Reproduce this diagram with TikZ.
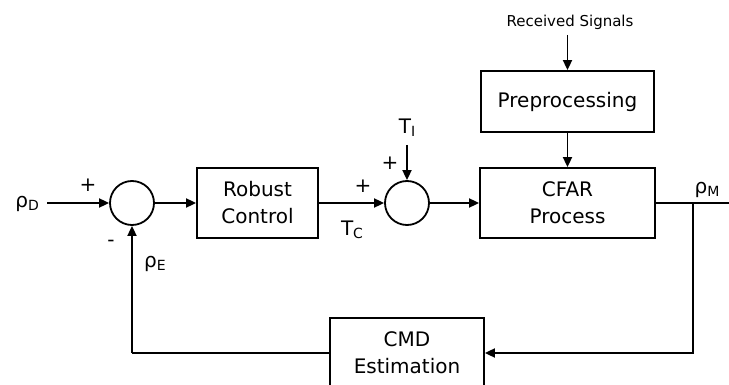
\documentclass[tikz,border=0pt]{standalone}
\usepackage{fontspec}
\setmainfont{DejaVu Sans}
\usetikzlibrary{arrows.meta,positioning}
\tikzset{
  node-b/.style={draw,line width=1.8pt,rectangle,inner sep=0pt,align=center,font=\fontsize{20}{27}\selectfont},
  node-s/.style={draw,line width=1.8pt,circle,minimum size=44pt,inner sep=0pt},
  conn/.style={-{Triangle[length=10pt,width=9pt]},line width=1.8pt},
  wire/.style={line width=1.8pt},
  sgn/.style={font=\fontsize{20}{20}\selectfont,inner sep=0pt},
}
\newcommand{\sigdrop}[2]{#1\raisebox{-3pt}{\fontsize{14}{14}\selectfont #2}}

\begin{document}
\begin{tikzpicture}[x=1pt,y=-1pt]
  \useasboundingbox (0,0) rectangle (729,385);

  % blocks
  \node[node-b,minimum width=121pt,minimum height=70pt] (ctrl) at (257.5,203) {Robust\\Control};
  \node[node-b,minimum width=175pt,minimum height=70pt] (cfar) at (567.5,203) {CFAR\\Process};
  \node[node-b,minimum width=173pt,minimum height=61pt] (prep) at (567.5,101.5) {Preprocessing};
  \node[node-b,minimum width=154pt,minimum height=70pt] (cmd)  at (407,353) {CMD\\Estimation};

  % summing junctions
  \node[node-s] (s1) at (132,203) {};
  \node[node-s] (s2) at (407,203) {};

  % signals
  \node[sgn,anchor=east] (rhod) at (39,204) {\sigdrop{ρ}{D}};
  \node[font=\fontsize{15}{15}\selectfont,inner sep=0pt] (recv) at (570,22) {Received Signals};
  \node[sgn] (ti) at (407,128) {\sigdrop{T}{I}};
  \node[sgn] (tc) at (352,230) {\sigdrop{T}{C}};
  \node[sgn] (rhoe) at (155,264) {\sigdrop{ρ}{E}};
  \node[sgn] (rhom) at (707,190) {\sigdrop{ρ}{M}};

  % signs
  \node[sgn] (p1) at (88,185) {+};
  \node[sgn] (m1) at (111,243) {-};
  \node[sgn] (p2) at (363,186) {+};
  \node[sgn] (p3) at (390,163) {+};

  \coordinate (din) at (47,203);
  \coordinate (tin) at (407,145);
  \coordinate (rin) at (567.5,35);
  \coordinate (tap) at (693,203);
  \coordinate (out) at (739,203);
  \coordinate (fbl) at (132,353);

  \draw[conn] (din) -- (s1);
  \draw[conn] (s1) -- (ctrl);
  \draw[conn] (ctrl) -- (s2);
  \draw[conn] (tin) -- (s2);
  \draw[conn] (s2) -- (cfar);
  \draw[conn] (rin) -- (prep);
  \draw[conn] (prep) -- (cfar);
  \draw[conn] (cfar) -- (out);
  \draw[conn] (tap) |- (cmd);
  \draw[wire] (cmd) -- (fbl);
  \draw[conn] (fbl) -- (s1);

\end{tikzpicture}
\end{document}
